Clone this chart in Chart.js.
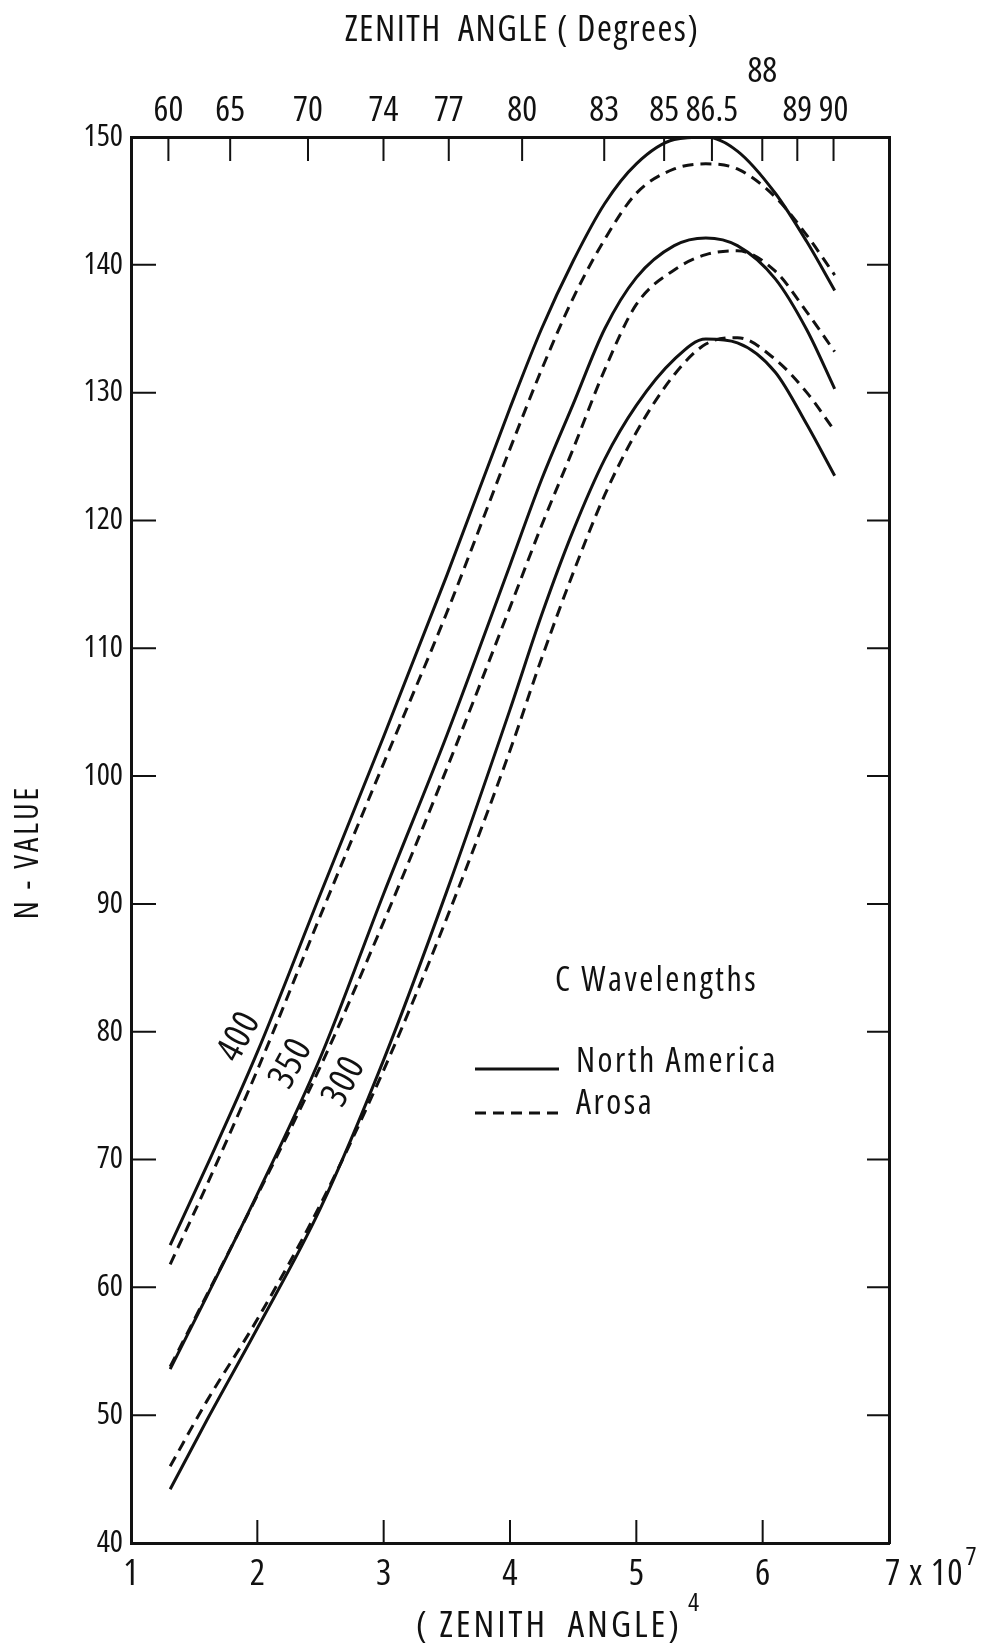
<!DOCTYPE html>
<html>
<head>
<meta charset="utf-8">
<script src="https://cdn.jsdelivr.net/npm/chart.js@4.4.1/dist/chart.umd.min.js"></script>
<style>
  html, body { margin: 0; padding: 0; background: #fff; }
  canvas { display: block; }
</style>
</head>
<body>
<canvas id="zenithChart" width="992" height="1646"></canvas>
<script>
// x = (zenith angle)^4, in units of 10^7 deg^4
const xValues = [1.31, 1.6, 2.0, 2.5, 3.0, 3.5, 4.0, 4.25, 4.5, 4.75, 5.0, 5.3, 5.55, 5.8, 6.1, 6.35, 6.57];

// N-values, C wavelengths
const northAmerica400 = [63.3, 69.5, 78.4, 90.8, 103.1, 115.7, 128.8, 135.0, 140.3, 144.8, 147.9, 149.8, 150.0, 148.9, 145.6, 141.8, 138.0];
const arosa400        = [61.8, 68.0, 77.0, 89.1, 101.0, 112.8, 125.6, 131.8, 137.4, 142.0, 145.6, 147.5, 147.9, 147.5, 145.3, 142.3, 139.2];
const northAmerica350 = [53.6, 59.3, 67.3, 78.0, 90.8, 103.2, 116.5, 123.2, 129.1, 135.0, 139.0, 141.5, 142.1, 141.5, 138.9, 134.9, 130.3];
const arosa350        = [53.8, 59.4, 67.2, 77.3, 88.6, 100.6, 113.2, 119.6, 125.6, 131.8, 136.9, 139.6, 140.8, 141.1, 139.5, 136.3, 133.2];
const northAmerica300 = [44.2, 49.6, 56.8, 66.2, 77.8, 91.0, 105.2, 112.6, 119.2, 124.8, 129.0, 132.6, 134.2, 133.9, 131.6, 127.5, 123.5];
const arosa300        = [46.0, 51.1, 57.5, 66.5, 77.0, 88.9, 102.0, 109.2, 115.9, 122.0, 126.9, 131.4, 133.8, 134.3, 132.6, 130.0, 127.0];

const wavelengths = ['400', '350', '300'];
const zenithDegrees = [60, 65, 70, 74, 77, 80, 83, 85, 86.5, 88, 89, 90];
const zenithLabels = ['60', '65', '70', '74', '77', '80', '83', '85', '86.5', '88', '89', '90'];

const INK = '#111';
const FONT = "'Open Sans'";
const STRETCH = '500 condensed';

function pts(series) {
    return xValues.map((x, i) => ({ x: x, y: series[i] }));
}

function line(label, series, dashed) {
    return {
        label: label,
        data: pts(series),
        borderColor: INK,
        borderWidth: 3,
        borderDash: dashed ? [11, 7] : [],
        pointRadius: 0,
        cubicInterpolationMode: 'monotone',
        fill: false
    };
}

// inner ticks, titles, curve labels and the legend box
const decorations = {
    id: 'decorations',
    afterDatasetsDraw(chart) {
        const { ctx, chartArea: a, scales } = chart;
        ctx.save();
        ctx.strokeStyle = INK;
        ctx.lineWidth = 2;
        ctx.beginPath();
        scales.y.ticks.forEach(t => {
            if (t.value <= 40 || t.value >= 150) return;
            const py = scales.y.getPixelForValue(t.value);
            ctx.moveTo(a.left, py); ctx.lineTo(a.left + 25, py);
            ctx.moveTo(a.right - 22, py); ctx.lineTo(a.right, py);
        });
        scales.x.ticks.forEach(t => {
            if (t.value <= 1 || t.value >= 7) return;
            const px = scales.x.getPixelForValue(t.value);
            ctx.moveTo(px, a.bottom); ctx.lineTo(px, a.bottom - 23);
        });
        scales.x2.ticks.forEach(t => {
            const px = scales.x2.getPixelForValue(t.value);
            ctx.moveTo(px, a.top); ctx.lineTo(px, a.top + 24);
        });
        ctx.stroke();

        // wavelength labels along the curves
        const labelPos = [[1.86, 79.6], [2.27, 77.5], [2.69, 76.1]];
        ctx.fillStyle = INK;
        ctx.font = STRETCH + ' 37px ' + FONT;
        ctx.letterSpacing = '1px';
        ctx.textAlign = 'center';
        ctx.textBaseline = 'middle';
        wavelengths.forEach((w, i) => {
            const px = scales.x.getPixelForValue(labelPos[i][0]);
            const py = scales.y.getPixelForValue(labelPos[i][1]);
            ctx.save();
            ctx.translate(px, py);
            ctx.rotate(-62 * Math.PI / 180);
            ctx.fillText(w, 0, 0);
            ctx.restore();
        });

        // legend
        ctx.letterSpacing = '2.5px';
        ctx.textAlign = 'left';
        ctx.font = STRETCH + ' 34px ' + FONT;
        ctx.fillText('C Wavelengths', 555, 981);
        ctx.fillText('North America', 576, 1062);
        ctx.fillText('Arosa', 576, 1104);
        ctx.lineWidth = 3;
        ctx.beginPath();
        ctx.moveTo(475, 1069); ctx.lineTo(559, 1069);
        ctx.stroke();
        ctx.setLineDash([11, 7]);
        ctx.beginPath();
        ctx.moveTo(475, 1113); ctx.lineTo(562, 1113);
        ctx.stroke();
        ctx.setLineDash([]);

        // axis titles
        ctx.textAlign = 'center';
        ctx.letterSpacing = '1.5px';
        ctx.font = STRETCH + ' 36px ' + FONT;
        ctx.fillText('ZENITH  ANGLE ( Degrees)', 522, 31);
        ctx.letterSpacing = '3px';
        ctx.font = STRETCH + ' 37px ' + FONT;
        ctx.fillText('( ZENITH  ANGLE)', 549, 1626);
        const w = ctx.measureText('( ZENITH  ANGLE)').width;
        ctx.font = STRETCH + ' 26px ' + FONT;
        ctx.textAlign = 'left';
        ctx.letterSpacing = '0px';
        ctx.fillText('4', 549 + w / 2 + 6, 1604);

        ctx.letterSpacing = '1px';
        ctx.font = STRETCH + ' 36px ' + FONT;
        ctx.fillText('7 x 10', 885, 1575);
        const w7 = ctx.measureText('7 x 10').width;
        ctx.font = STRETCH + ' 26px ' + FONT;
        ctx.fillText('7', 885 + w7 + 2, 1558);

        ctx.letterSpacing = '3px';
        ctx.font = STRETCH + ' 32px ' + FONT;
        ctx.textAlign = 'center';
        ctx.translate(29, 852);
        ctx.rotate(-Math.PI / 2);
        ctx.fillText('N - VALUE', 0, 0);
        ctx.restore();
    }
};

const border = { display: true, color: INK, width: 3 };

new Chart(document.getElementById('zenithChart'), {
    type: 'line',
    data: {
        datasets: [
            line('North America 400', northAmerica400, false),
            line('Arosa 400', arosa400, true),
            line('North America 350', northAmerica350, false),
            line('Arosa 350', arosa350, true),
            line('North America 300', northAmerica300, false),
            line('Arosa 300', arosa300, true)
        ]
    },
    options: {
        responsive: false,
        devicePixelRatio: 1,
        animation: false,
        layout: { padding: 0 },
        plugins: {
            legend: { display: false },
            tooltip: { enabled: false }
        },
        scales: {
            x: {
                type: 'linear',
                position: 'bottom',
                min: 1,
                max: 7,
                border: border,
                grid: { display: false, drawTicks: false },
                ticks: {
                    stepSize: 1,
                    padding: 10,
                    color: INK,
                    font: { family: FONT, size: 36, weight: STRETCH },
                    maxRotation: 0,
                    callback: v => (v === 7 ? '' : String(v))
                },
                afterFit: s => { s.height = 103; }
            },
            x2: {
                type: 'linear',
                position: 'top',
                min: 1,
                max: 7,
                border: border,
                grid: { display: false, drawTicks: false },
                afterBuildTicks: s => {
                    s.ticks = zenithDegrees.map(d => ({ value: Math.pow(d, 4) / 1e7 }));
                },
                ticks: {
                    autoSkip: false,
                    maxRotation: 0,
                    padding: 7,
                    color: INK,
                    font: { family: FONT, size: 35, weight: STRETCH, lineHeight: 1.1 },
                    callback: (v, i) => (zenithLabels[i] === '88' ? ['88', ''] : zenithLabels[i])
                },
                afterFit: s => { s.height = 137; }
            },
            y: {
                position: 'left',
                min: 40,
                max: 150,
                border: border,
                grid: { display: false, drawTicks: false },
                ticks: {
                    stepSize: 10,
                    autoSkip: false,
                    padding: 8,
                    color: INK,
                    font: { family: FONT, size: 31, weight: STRETCH }
                },
                afterFit: s => { s.width = 131; }
            },
            y2: {
                position: 'right',
                min: 40,
                max: 150,
                border: border,
                grid: { display: false, drawTicks: false },
                ticks: { display: false },
                afterFit: s => { s.width = 103; }
            }
        }
    },
    plugins: [decorations]
});
</script>
</body>
</html>
